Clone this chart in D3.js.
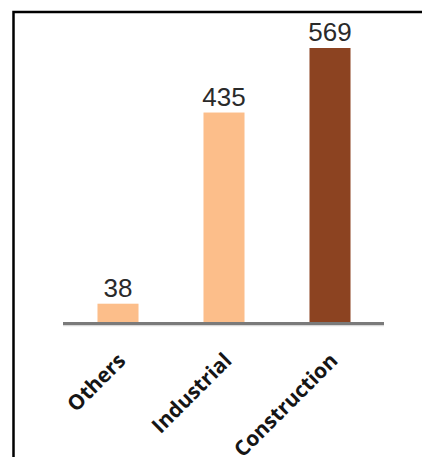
<!DOCTYPE html>
<html><head><meta charset="utf-8">
<script src="https://cdn.jsdelivr.net/npm/d3@7"></script>
<style>html,body{margin:0;padding:0;background:#fff;}svg{display:block;}</style>
</head><body>
<script>
const categories = ["Others", "Industrial", "Construction"];
const values = [38, 435, 569];
const colors = ["#FCBE8A", "#FCBE8A", "#8C4321"];

const W = 422, H = 457;
const svg = d3.select("body").append("svg").attr("width", W).attr("height", H);

// frame (right & bottom edges fall outside the view)
svg.append("rect").attr("x", 13.5).attr("y", 12).attr("width", 440).attr("height", 470)
  .attr("fill", "none").attr("stroke", "#000").attr("stroke-width", 2.5);

const x = d3.scaleBand().domain(categories).range([65, 383]).paddingInner(0.613).paddingOuter(0.3065);
const y = d3.scaleLinear().domain([0, 569]).range([322, 48]);

svg.selectAll("rect.bar").data(values).enter().append("rect").attr("class", "bar")
  .attr("x", (d, i) => x(categories[i]))
  .attr("width", x.bandwidth())
  .attr("y", d => y(d))
  .attr("height", d => y(0) - y(d))
  .attr("fill", (d, i) => colors[i]);

// baseline
svg.append("line").attr("x1", 63).attr("x2", 384).attr("y1", y(0) + 3.5).attr("y2", y(0) + 3.5)
  .attr("stroke", "#d8d8d8").attr("stroke-width", 1.5);
svg.append("line").attr("x1", 63).attr("x2", 384).attr("y1", y(0) + 1.5).attr("y2", y(0) + 1.5)
  .attr("stroke", "#7a7a7a").attr("stroke-width", 3);

// value labels
svg.selectAll("text.val").data(values).enter().append("text").attr("class", "val")
  .attr("x", (d, i) => x(categories[i]) + x.bandwidth() / 2)
  .attr("y", d => y(d) - 7)
  .attr("text-anchor", "middle")
  .attr("font-family", "'Liberation Sans', Arial, sans-serif")
  .attr("font-size", 26)
  .attr("fill", "#2a2a2a")
  .text(d => d);

// category labels rotated
svg.selectAll("text.cat").data(categories).enter().append("text").attr("class", "cat")
  .attr("transform", d => `translate(${x(d) + x.bandwidth() / 2 + 9},362) rotate(-45)`)
  .attr("text-anchor", "end")
  .attr("font-family", "'Open Sans', sans-serif")
  .attr("font-weight", 700)
  .attr("font-size", 21)
  .attr("fill", "#151515")
  .text(d => d);
</script>
</body></html>
